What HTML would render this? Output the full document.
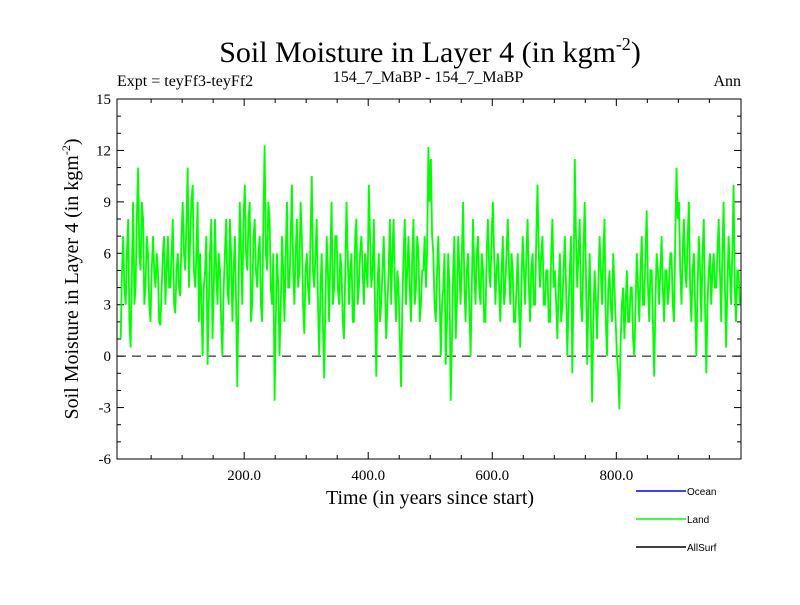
<!DOCTYPE html>
<html><head><meta charset="utf-8"><style>
body{margin:0;background:#fff;width:800px;height:600px;overflow:hidden}
svg text{font-family:"Liberation Serif",serif}
</style></head><body>
<svg id="chart" width="800" height="600">
<text x="430" y="62" font-size="30" text-anchor="middle">Soil Moisture in Layer 4 (in kgm<tspan font-size="18" dy="-12">-2</tspan><tspan dy="12">)</tspan></text>
<text x="117" y="86" font-size="16">Expt = teyFf3-teyFf2</text>
<text x="428" y="82" font-size="16" text-anchor="middle">154_7_MaBP - 154_7_MaBP</text>
<text x="741" y="86" font-size="16" text-anchor="end">Ann</text>
<g id="axes"></g>
<g id="series"></g>
<text x="430" y="504" font-size="20" text-anchor="middle">Time (in years since start)</text>
<text transform="translate(78,279) rotate(-90)" font-size="20" text-anchor="middle">Soil Moisture in Layer 4 (in kgm<tspan font-size="12" dy="-8">-2</tspan><tspan dy="8">)</tspan></text>
<g>
<line x1="636" y1="491" x2="686" y2="491" stroke="#0000ff" stroke-width="1.5"/>
<text x="687" y="495" font-size="10" style="font-family:'Liberation Sans',sans-serif">Ocean</text>
<line x1="636" y1="519" x2="686" y2="519" stroke="#00ff00" stroke-width="1.5"/>
<text x="687" y="523" font-size="10" style="font-family:'Liberation Sans',sans-serif">Land</text>
<line x1="636" y1="547" x2="686" y2="547" stroke="#000" stroke-width="1.5"/>
<text x="687" y="551" font-size="10" style="font-family:'Liberation Sans',sans-serif">AllSurf</text>
</g>
</svg>
<script>
const landValues = [
1,5,7,4,3,6,8,2,0.5,5,9,3,4,8,11,6,5,9,8,3,4,7,6,3,2,5,7,5,4,6,5,2,1.8,4,6,7,3,5,7,4,4,6,8,3,2.5,5,6,4,3.5,7,
9,6,5,8,11,4,7,9,10,5,4,6,9,2,6,3,0,4,5,7,-0.5,3,6,8,1,4,8,5,3,6,5,2,0,4,6,8,4,3,8,6,2,5,7,3,-1.8,4,9,6,3,8,
10,6,5,8,9,2,3,7,8,5,4,6,7,3,2,8,12.3,6,5,9,8,4,3,6,-2.6,2,6,4,0,3,7,5,2,6,9,4,4,7,10,5,3,6,8,4,5,9,7,3,1.3,5,
6,4,3,7,10.5,5,4,6,8,3,0,4,6,2,-1.3,3,7,5,2,6,9,3,4,7,7,4,3,6,5,2,1,5,9,6,3,5,6,2,2,7,8,3,4,6,7,5,3,6,5,4,
10,7,4,5,8,3,-1.2,4,6,2,3,5,7,4,1,3,5,8,3,6,8,4,2,5,4,1,-1.8,3,6,8,3,5,7,4,2,6,8,3,4,7,6,2,3,5,5,7,4,6,12.2,9,
11.5,7,6,3,2,5,7,4,0,3,4,6,-0.5,2,6,4,-2.6,1,5,7,1,3,7,5,3,6,9,4,2,5,6,3,0,4,8,5,3,6,7,4,3,6,5,2,2,6,8,5,4,7,
9,6,3,5,6,4,2,5,7,3,4,6,8,5,3,6,5,2,2,4,6,3,0.5,4,7,5,3,6,8,4,2,5,6,3,3,7,10,6,4,6,7,3,3,5,5,2,2,6,8,4,
5,3,1,4,6,2,3,5,7,4,0,3,5,7,-1,4,11.5,7,4,6,8,3,2,6,9,5,-0.5,3,6,2,-2.7,2,5,3,1,4,7,5,3,6,8,2,0,4,5,3,2,6,4,2,
0,-1,-3.1,1,3,4,1,3,5,2,2,4,4,1,0,3,6,4,2,5,7,3,3,6,8.5,4,2,5,5,2,-1.2,3,6,5,3,5,7,4,2,5,5,3,4,6,6,3,2,7,11,8,
9,5,3,6,8,5,4,7,9,4,2,5,6,3,0,4,7,5,2,6,8,3,-1,3,5,6,3,5,6,4,4,6,8,5,2,6,9,4,0.5,4,7,5,3,6,10,4,2,5,5,3];
const yearStep = 2;
const yTicks = [-6,-3,0,3,6,9,12,15];
const xTicks = [200,400,600,800];
const xTickLabels = ["200.0","400.0","600.0","800.0"];

const L=117,R=741,T=99,B=459;
const xMin=-5,xMax=1001,yMin=-6,yMax=15;
const sx=v=>L+(v-xMin)/(xMax-xMin)*(R-L);
const sy=v=>B-(v-yMin)/(yMax-yMin)*(B-T);
const NS="http://www.w3.org/2000/svg";
const axes=document.getElementById('axes');
function mk(tag,attrs,parent){const e=document.createElementNS(NS,tag);for(const k in attrs)e.setAttribute(k,attrs[k]);parent.appendChild(e);return e;}
const frame=mk('rect',{x:L,y:T,width:R-L,height:B-T,fill:'none',stroke:'#000','stroke-width':1},axes);


for(let v=yMin;v<=yMax;v++){
  const major=yTicks.includes(v);const len=major?7:4;
  mk('line',{x1:L,x2:L+len,y1:sy(v),y2:sy(v),stroke:'#000'},axes);
  mk('line',{x1:R,x2:R-len,y1:sy(v),y2:sy(v),stroke:'#000'},axes);
}
yTicks.forEach(v=>{
  const t=mk('text',{x:L-6,y:sy(v)+5,'font-size':15,'text-anchor':'end'},axes);
  t.textContent=v;
  
  
});
for(let v=50;v<1000;v+=50){
  const major=xTicks.includes(v);const len=major?7:4;
  mk('line',{x1:sx(v),x2:sx(v),y1:B,y2:B-len,stroke:'#000'},axes);
  mk('line',{x1:sx(v),x2:sx(v),y1:T,y2:T+len,stroke:'#000'},axes);
}
xTicks.forEach((v,i)=>{
  const t=mk('text',{x:sx(v),y:B+21,'font-size':15,'text-anchor':'middle'},axes);
  t.textContent=xTickLabels[i];
  
  
});
const zero=mk('line',{x1:L,x2:R,y1:sy(0),y2:sy(0),stroke:'#000','stroke-dasharray':'9,6'},axes);


const pts=landValues.map((v,i)=>sx(i*yearStep+1).toFixed(1)+','+sy(v).toFixed(1)).join(' ');
const line=mk('polyline',{points:pts,fill:'none',stroke:'#00ff00','stroke-width':1.8},document.getElementById('series'));


</script>
</body></html>
